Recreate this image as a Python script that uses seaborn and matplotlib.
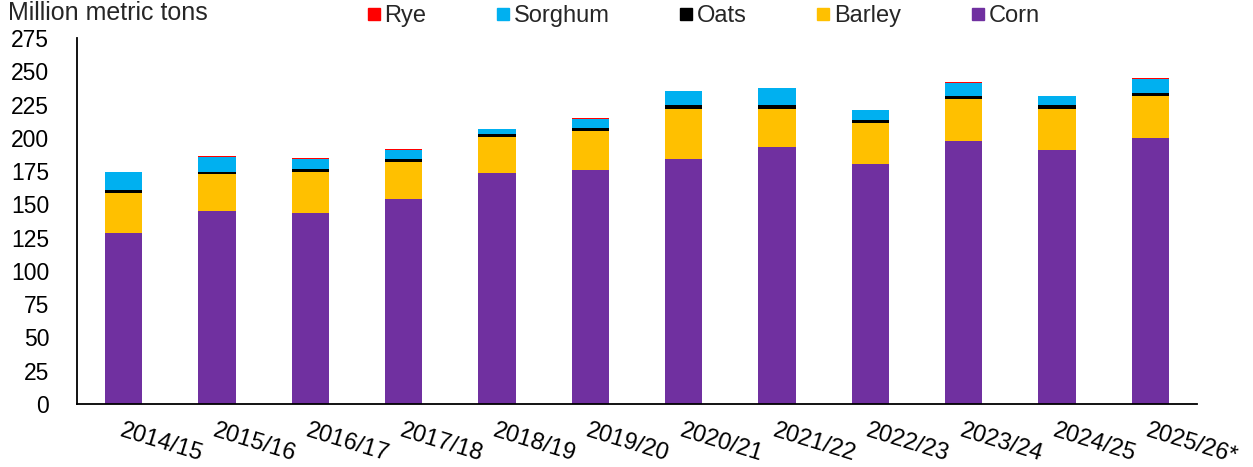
import matplotlib
matplotlib.use("Agg")
import matplotlib.pyplot as plt
from matplotlib.lines import Line2D
import seaborn as sns
import numpy as np
import pandas as pd

years = ["2014/15", "2015/16", "2016/17", "2017/18", "2018/19", "2019/20",
         "2020/21", "2021/22", "2022/23", "2023/24", "2024/25", "2025/26*"]
corn = [128.7, 145.3, 143.2, 153.8, 173.3, 175.8, 184.3, 193.3, 180.5, 197.6, 191.1, 199.8]
barley = [29.8, 27.7, 31.0, 28.0, 27.1, 29.3, 37.3, 28.6, 30.3, 31.6, 30.5, 31.8]
oats = [2.3, 1.5, 2.1, 2.3, 2.5, 2.5, 2.8, 2.5, 2.8, 2.4, 2.8, 2.0]
sorghum = [13.2, 11.1, 8.0, 7.0, 3.5, 6.5, 10.6, 13.0, 7.0, 9.8, 6.8, 10.8]
rye = [0.5, 0.4, 0.6, 0.6, 0.6, 0.6, 0.3, 0.3, 0.6, 0.6, 0.5, 0.4]

series_names = ["Corn", "Barley", "Oats", "Sorghum", "Rye"]
series_vals = [corn, barley, oats, sorghum, rye]
colors = {"Corn": "#7030A0", "Barley": "#FFC000", "Oats": "#000000",
          "Sorghum": "#00B0F0", "Rye": "#FF0000"}

sns.set_theme(style="white")
plt.rcParams["font.family"] = ["Liberation Sans", "DejaVu Sans"]

fig = plt.figure(figsize=(12.53, 4.67), dpi=100)
ax = fig.add_axes([77 / 1253, 1 - 404 / 467, (1197 - 77) / 1253, (404 - 38) / 467])

bottom = np.zeros(len(years))
for name, vals in zip(series_names, series_vals):
    df = pd.DataFrame({"year": years, "value": vals})
    sns.barplot(data=df, x="year", y="value", bottom=bottom, color=colors[name],
                width=0.4, ax=ax, saturation=1, linewidth=0)
    bottom = bottom + np.array(vals)

ax.set_ylim(0, 275)
ax.set_xlim(-0.5, len(years) - 0.5)
ax.set_yticks(np.arange(0, 276, 25))
ax.set_xlabel("")
ax.set_ylabel("")
ax.tick_params(axis="y", length=0, pad=20, labelsize=16.5, colors="black")
ax.tick_params(axis="x", length=0, pad=11, labelsize=17, colors="black")
for lab in ax.get_xticklabels():
    lab.set_rotation(-17)
    lab.set_ha("left")
    lab.set_va("top")
    lab.set_rotation_mode("anchor")
for s in ["top", "right"]:
    ax.spines[s].set_visible(False)
for s in ["left", "bottom"]:
    ax.spines[s].set_color("black")
    ax.spines[s].set_linewidth(1.3)

fig.text(8 / 1253, 1 - 13 / 467, "Million metric tons", fontsize=18, va="center", ha="left")

legend_order = ["Rye", "Sorghum", "Oats", "Barley", "Corn"]
handles = [Line2D([0], [0], marker="s", linestyle="none", markersize=9,
                  markerfacecolor=colors[n], markeredgecolor=colors[n]) for n in legend_order]
fig.legend(handles, legend_order, loc="center", bbox_to_anchor=(703 / 1253, 1 - 16 / 467),
           ncol=5, frameon=False, fontsize=17, handlelength=0.6, handletextpad=0.15,
           columnspacing=2.95, borderaxespad=0, borderpad=0)

fig.savefig("out.png", dpi=100)
